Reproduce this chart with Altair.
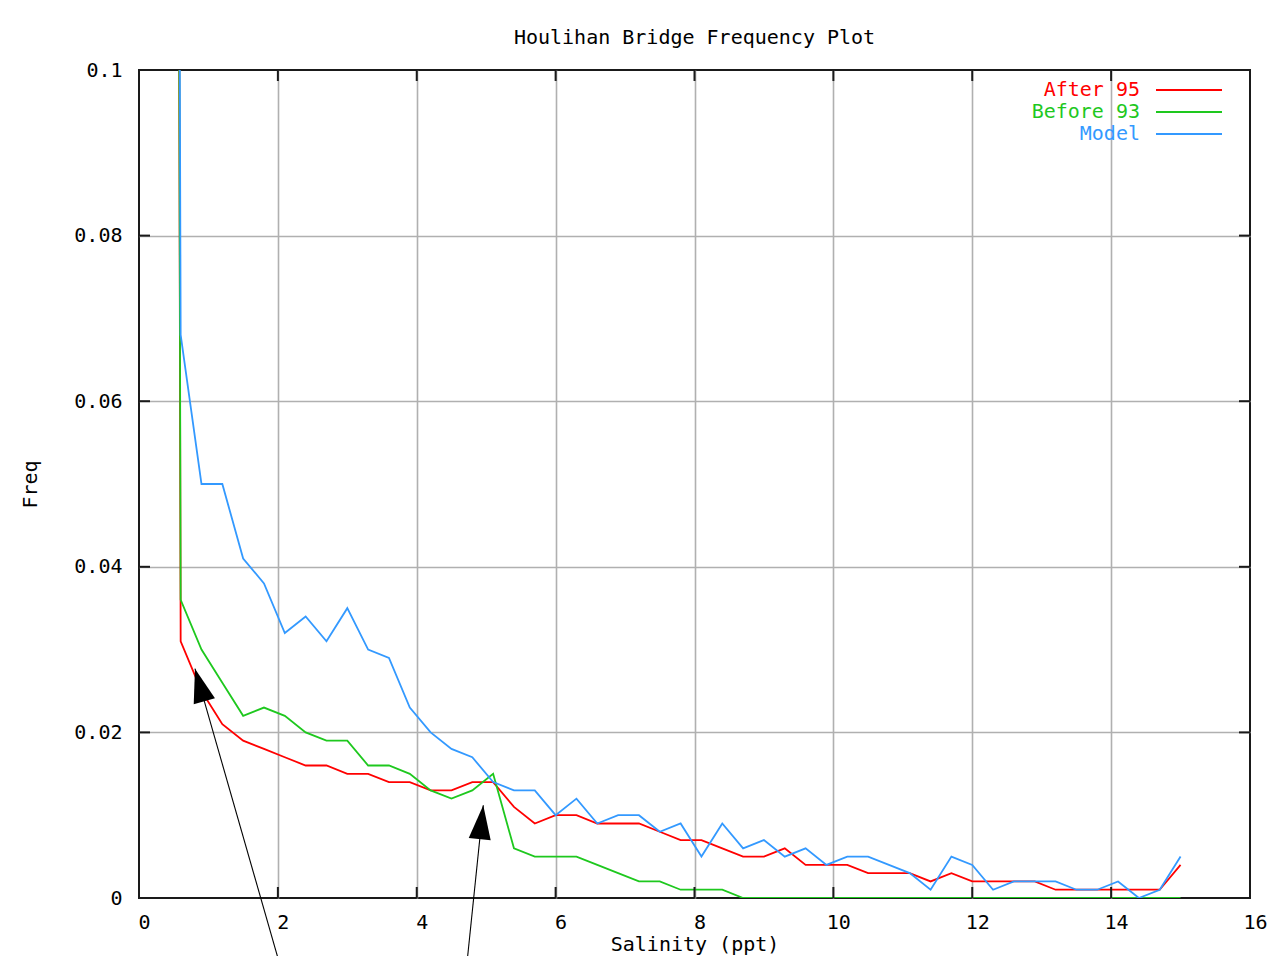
import altair as alt
import pandas as pd

# ---- data ----
salinity = [0.55, 0.6, 0.9, 1.2, 1.5, 1.8, 2.1, 2.4, 2.7, 3.0, 3.3, 3.6, 3.9, 4.2, 4.5,
            4.8, 5.1, 5.4, 5.7, 6.0, 6.3, 6.6, 6.9, 7.2, 7.5, 7.8, 8.1, 8.4, 8.7, 9.0,
            9.3, 9.6, 9.9, 10.2, 10.5, 10.8, 11.1, 11.4, 11.7, 12.0, 12.3, 12.6, 12.9,
            13.2, 13.5, 13.8, 14.1, 14.4, 14.7, 15.0]

after_95 = [0.2, 0.031, 0.025, 0.021, 0.019, 0.018, 0.017, 0.016, 0.016, 0.015, 0.015,
            0.014, 0.014, 0.013, 0.013, 0.014, 0.014, 0.011, 0.009, 0.010, 0.010,
            0.009, 0.009, 0.009, 0.008, 0.007, 0.007, 0.006, 0.005, 0.005, 0.006,
            0.004, 0.004, 0.004, 0.003, 0.003, 0.003, 0.002, 0.003, 0.002, 0.002,
            0.002, 0.002, 0.001, 0.001, 0.001, 0.001, 0.001, 0.001, 0.004]

before_93 = [0.2, 0.036, 0.030, 0.026, 0.022, 0.023, 0.022, 0.020, 0.019, 0.019, 0.016,
             0.016, 0.015, 0.013, 0.012, 0.013, 0.015, 0.006, 0.005, 0.005, 0.005,
             0.004, 0.003, 0.002, 0.002, 0.001, 0.001, 0.001, 0.0, 0.0, 0.0,
             0.0, 0.0, 0.0, 0.0, 0.0, 0.0, 0.0, 0.0, 0.0, 0.0,
             0.0, 0.0, 0.0, 0.0, 0.0, 0.0, 0.0, 0.0, 0.0]

model = [0.2, 0.068, 0.050, 0.050, 0.041, 0.038, 0.032, 0.034, 0.031, 0.035, 0.030,
         0.029, 0.023, 0.020, 0.018, 0.017, 0.014, 0.013, 0.013, 0.010, 0.012,
         0.009, 0.010, 0.010, 0.008, 0.009, 0.005, 0.009, 0.006, 0.007, 0.005,
         0.006, 0.004, 0.005, 0.005, 0.004, 0.003, 0.001, 0.005, 0.004, 0.001,
         0.002, 0.002, 0.002, 0.001, 0.001, 0.002, 0.000, 0.001, 0.005]

series_names = ["After 95", "Before 93", "Model"]
series_colors = ["#ff0000", "#1ec81e", "#3399ff"]

x_ticks = [0, 2, 4, 6, 8, 10, 12, 14, 16]
y_ticks = [0, 0.02, 0.04, 0.06, 0.08, 0.1]

arrow_tip_x = [0.806, 4.958]
arrow_tip_y = [0.0277, 0.0112]
arrow_tail_x = [2.03, 4.72]
arrow_tail_y = [-0.0081, -0.0081]
arrow_angles = [344, 6]

# ---- tables ----
rows = []
for name, vals in zip(series_names, [after_95, before_93, model]):
    for x, v in zip(salinity, vals):
        rows.append({"Salinity": x, "Freq": v, "series": name})
df = pd.DataFrame(rows)
adf = pd.DataFrame({"Salinity": arrow_tip_x, "ty": arrow_tip_y,
                    "sx": arrow_tail_x, "sy": arrow_tail_y})
ldf = pd.DataFrame({"series": series_names})
xdf = pd.DataFrame({"Salinity": x_ticks[1:-1]})
ydf = pd.DataFrame({"v": y_ticks[1:-1]})

FONT = "DejaVu Sans Mono"
FS = 20
W, H = 1111, 828
TL = 11
GRID = "#b0b0b0"

xs = alt.Scale(domain=[0, 16], nice=False, zero=False)
ys = alt.Scale(domain=[0, 0.1], nice=False, zero=False)
cs = alt.Scale(domain=series_names, range=series_colors)

grid_x_op = {"condition": {"test": "datum.value <= 0 || datum.value >= 16", "value": 0}, "value": 1}
grid_y_op = {"condition": {"test": "datum.value <= 0 || datum.value >= 0.1", "value": 0}, "value": 1}

x_axis = alt.Axis(values=x_ticks, grid=True, gridColor=GRID, gridWidth=1.6, gridOpacity=grid_x_op,
                  domain=False, ticks=False, labelFont=FONT, labelFontSize=FS, labelColor="black",
                  labelPadding=14, labelOffset=5, labelFlush=False, labelOverlap=False,
                  title="Salinity (ppt)", titleFont=FONT, titleFontSize=FS, titleFontWeight="normal",
                  titleColor="black", titleX=W / 2, titleY=46, titleBaseline="middle", titleAlign="center")
y_axis = alt.Axis(values=y_ticks, grid=True, gridColor=GRID, gridWidth=1.6, gridOpacity=grid_y_op,
                  domain=False, ticks=False, labelFont=FONT, labelFontSize=FS, labelColor="black",
                  labelExpr="toString(round(datum.value*100)/100)",
                  labelPadding=17, labelFlush=False, labelOverlap=False, labelBaseline="middle",
                  title="Freq", titleFont=FONT, titleFontSize=FS, titleFontWeight="normal",
                  titleColor="black", titleX=-109, titleY=H / 2, titleBaseline="middle", titleAlign="center")


def xenc(field):
    return alt.X(field, type="quantitative", scale=xs, axis=x_axis)


lines = alt.Chart(df).mark_line(clip=True, strokeWidth=1.8).encode(
    x=xenc("Salinity"),
    y=alt.Y("Freq:Q", scale=ys, axis=y_axis),
    color=alt.Color("series:N", scale=cs, legend=None),
)

tick_style = dict(color="#1a1a1a", strokeWidth=2)
left_t = alt.Chart(ydf).mark_rule(**tick_style).encode(
    y=alt.Y("v:Q", scale=ys, axis=None), x=alt.value(0), x2=alt.value(TL))
right_t = alt.Chart(ydf).mark_rule(**tick_style).encode(
    y=alt.Y("v:Q", scale=ys, axis=None), x=alt.value(W - TL), x2=alt.value(W))
bottom_t = alt.Chart(xdf).mark_rule(**tick_style).encode(
    x=xenc("Salinity"), y=alt.value(H - TL), y2=alt.value(H))
top_t = alt.Chart(xdf).mark_rule(**tick_style).encode(
    x=xenc("Salinity"), y=alt.value(0), y2=alt.value(TL))

arrow_lines = alt.Chart(adf).mark_rule(color="black", strokeWidth=1.1).encode(
    x=xenc("Salinity"), y=alt.Y("ty:Q", scale=ys, axis=None),
    x2="sx:Q", y2="sy:Q")

heads = []
for i, ang in enumerate(arrow_angles):
    heads.append(
        alt.Chart(adf.iloc[[i]]).mark_point(
            shape="M0,0 L0.65,2 L-0.65,2 Z", filled=True, size=1156, angle=ang,
            color="black", opacity=1, strokeWidth=0
        ).encode(x=xenc("Salinity"), y=alt.Y("ty:Q", scale=ys, axis=None))
    )

leg_y = alt.Y("series:N", scale=alt.Scale(type="point", domain=series_names, range=[20, 64], padding=0),
              axis=None)
legend_text = alt.Chart(ldf).mark_text(align="right", baseline="middle", font=FONT, fontSize=FS).encode(
    x=alt.value(1001), y=leg_y, text="series:N",
    color=alt.Color("series:N", scale=cs, legend=None))
legend_lines = alt.Chart(ldf).mark_rule(strokeWidth=1.8).encode(
    x=alt.value(1017), x2=alt.value(1083), y=leg_y,
    color=alt.Color("series:N", scale=cs, legend=None))

chart = alt.layer(
    lines, left_t, right_t, bottom_t, top_t, arrow_lines, *heads, legend_text, legend_lines
).resolve_scale(y="independent").properties(
    width=W, height=H,
    autosize=alt.AutoSizeParams(type="none"),
    padding={"left": 131, "top": 62, "right": 20, "bottom": 58},
    background="white",
    title=alt.TitleParams(text="Houlihan Bridge Frequency Plot", font=FONT, fontSize=FS,
                          fontWeight="normal", color="black", anchor="middle", frame="group",
                          offset=2, baseline="middle"),
).configure_view(stroke="#1a1a1a", strokeWidth=2)

chart.save("out.html", embed_options={"renderer": "svg", "actions": False})
